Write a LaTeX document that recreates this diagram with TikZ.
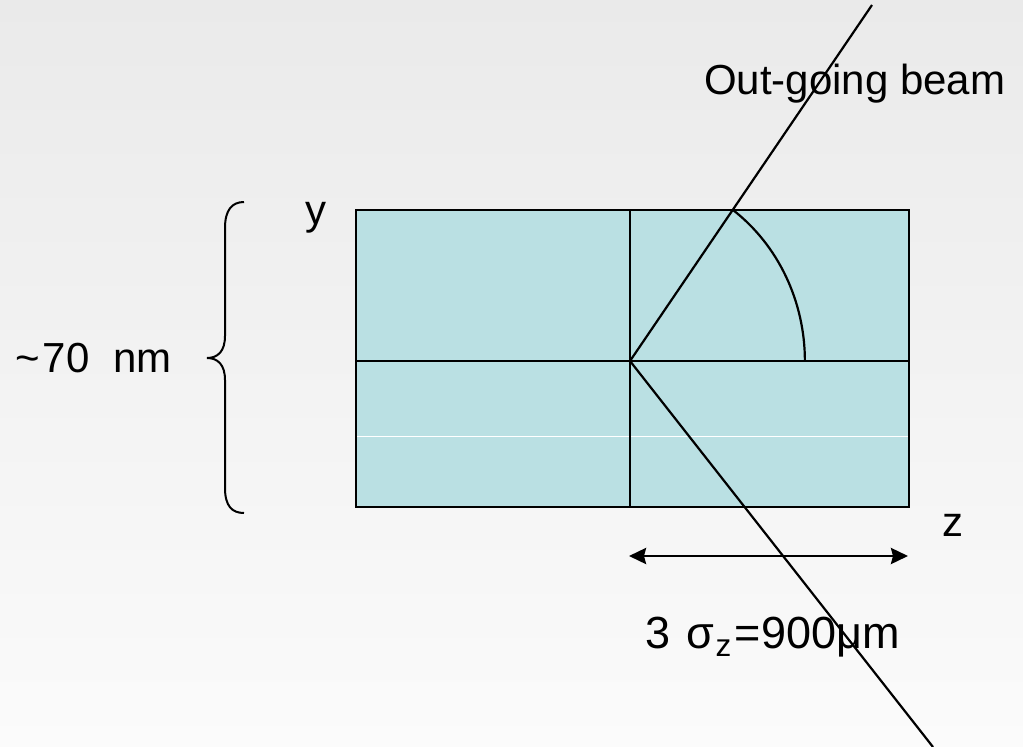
\documentclass[tikz,border=0pt]{standalone}
\usepackage{fontspec}
\setmainfont{Liberation Sans}
\usetikzlibrary{arrows.meta,positioning,calc}
\definecolor{cellfill}{RGB}{186,224,227}
\definecolor{bgtop}{HTML}{EAEAEA}
\definecolor{bgbot}{HTML}{FBFBFB}

\begin{document}
\begin{tikzpicture}[
  x=1pt, y=-1pt,
  >={Stealth[length=17pt,width=16pt,inset=2pt]},
  lbl/.style={font=\fontsize{42}{50}\selectfont, inner sep=0pt, anchor=base west},
  cell/.style={draw, fill=cellfill, line width=2.8pt},
  axis/.style={line width=2.8pt},
  beam/.style={line width=2.2pt},
]
  \useasboundingbox (0,0) rectangle (1023,747);
  \fill[top color=bgtop, bottom color=bgbot] (0,0) rectangle (1023,747);

  % Bunch
  \coordinate (sw) at (356,507);
  \coordinate (ne) at (909,210);
  \coordinate (ip) at (630,361);
  \draw[cell] (sw) rectangle (ne);
  \draw[white, line width=0.8pt] (357,436) -- (908,436);
  \draw[axis] (sw |- ip) -- (ne |- ip);
  \draw[axis] (ip |- ne) -- (ip |- sw);

  % Beams
  \coordinate (outend) at (872,5);
  \coordinate (inend) at (933,747);
  \draw[beam] (ip) -- (outend);
  \draw[beam] (ip) -- (inend);
  \draw[beam] (733,210) arc[start angle=-53.9, end angle=0, x radius=175, y radius=187];

  % Labels
  \node[lbl] (outlbl) at (704,94) {Out-going beam};
  \node[lbl] (ylbl) at (305,224) {y};
  \node[lbl] (zlbl) at (942,536) {z};
  \node[lbl] (hlbl) at (15,372) {\textasciitilde\kern3pt70\hspace{12pt} nm};
  \node[lbl, font=\fontsize{45}{52}\selectfont] (wlbl) at (645,648)
    {3\hspace{4pt} σ\kern1pt\textsubscript{z}\kern3pt=900μm};

  % Sizes
  \coordinate (wl) at (629,556);
  \coordinate (wr) at (908,556);
  \draw[<->, line width=2.8pt] (wl) -- (wr);
  \draw[line width=2pt] (244,202) .. controls (232,202) and (225,210) .. (225,228)
    -- (225,336) .. controls (225,351) and (218,358) .. (207,358)
    .. controls (218,358) and (225,365) .. (225,380)
    -- (225,488) .. controls (225,506) and (232,513) .. (244,513);
\end{tikzpicture}
\end{document}
